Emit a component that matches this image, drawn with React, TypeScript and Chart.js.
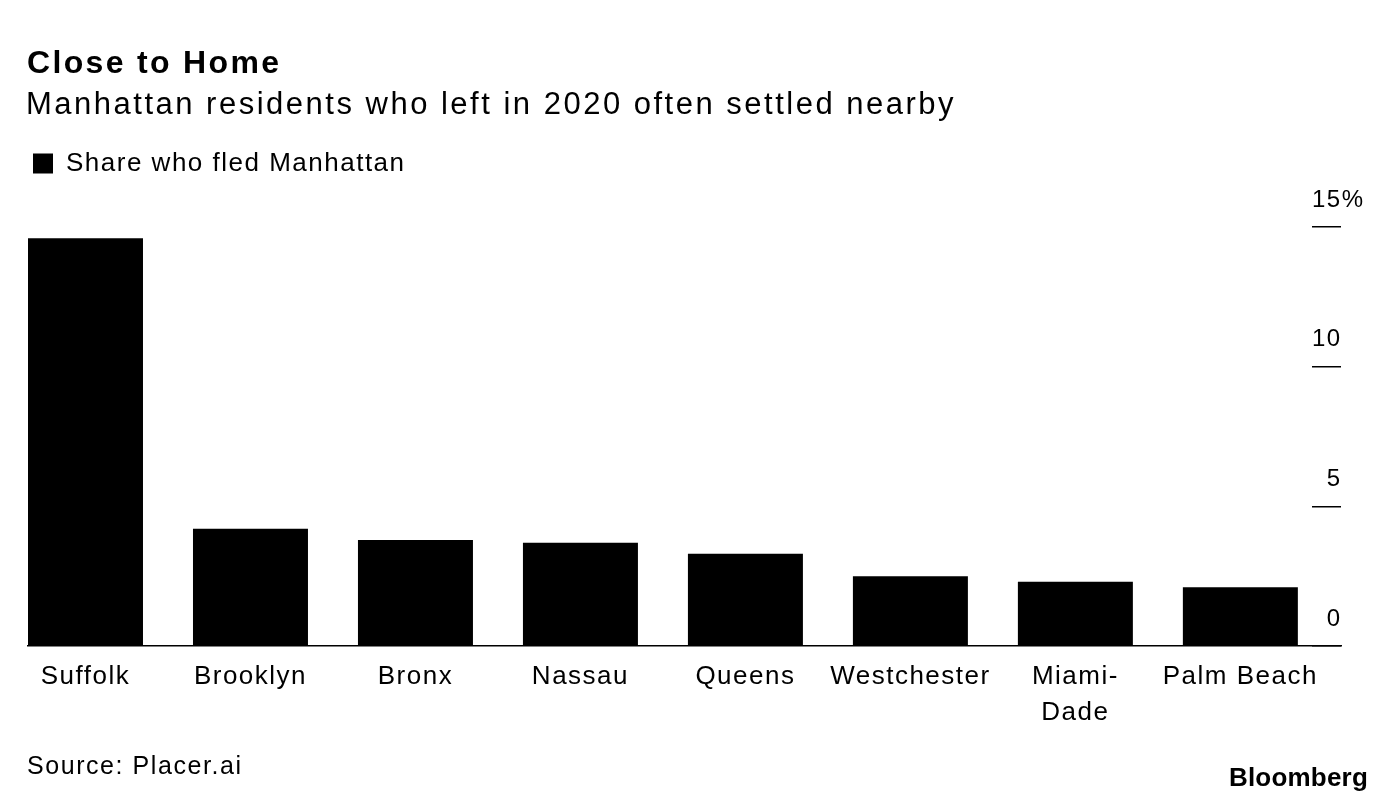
import { useEffect, useRef } from "react";
import { Chart, registerables } from "chart.js";

Chart.register(...registerables);

// ---- data ----
const CATEGORIES: (string | string[])[] = [
  "Suffolk",
  "Brooklyn",
  "Bronx",
  "Nassau",
  "Queens",
  "Westchester",
  ["Miami-", "Dade"],
  "Palm Beach",
];
const SHARE_FLED: number[] = [14.6, 4.2, 3.8, 3.7, 3.3, 2.5, 2.3, 2.1];
const SERIES_LABEL = "Share who fled Manhattan";
const Y_TICKS: number[] = [0, 5, 10, 15];
const Y_TICK_LABELS: string[] = ["\u20070", "\u20075", "10", "15%"];

const TITLE = "Close to Home";
const SUBTITLE = "Manhattan residents who left in 2020 often settled nearby";
const SOURCE = "Source: Placer.ai";
const BRAND = "Bloomberg";

const FONT = '"Liberation Sans", Arial, Helvetica, sans-serif';

const letterSpacingPlugin = {
  id: "letterSpacing",
  beforeLayout(chart: any) {
    chart.ctx.letterSpacing = "1.5px";
  },
  beforeDraw(chart: any) {
    chart.ctx.letterSpacing = "1.5px";
  },
};

export default function App() {
  const ref = useRef<HTMLCanvasElement | null>(null);

  useEffect(() => {
    if (!ref.current) return;
    const chart = new Chart(ref.current, {
      type: "bar",
      data: {
        datasets: [
          {
            label: SERIES_LABEL,
            data: SHARE_FLED.map((v, i) => ({ x: i, y: v })),
            backgroundColor: "#000",
            borderWidth: 0,
            barPercentage: 0.697,
            categoryPercentage: 1,
          } as any,
        ],
      },
      options: {
        responsive: false,
        maintainAspectRatio: false,
        animation: false,
        layout: { padding: { left: 28, right: 55, top: 145.6, bottom: 80 } },
        plugins: {
          legend: {
            display: true,
            position: "top",
            align: "start",
            labels: {
              boxWidth: 20,
              boxHeight: 20,
              padding: 5,
              color: "#000",
              font: { family: FONT, size: 26 },
            },
          },
          tooltip: { enabled: false },
        },
        scales: {
          x: {
            type: "linear",
            min: -0.3485,
            max: 7.61,
            offset: false,
            grid: { display: false },
            border: { display: true, color: "#000", width: 1.5 },
            afterBuildTicks: (s: any) => {
              s.ticks = CATEGORIES.map((_, i) => ({ value: i }));
            },
            afterFit: (s: any) => {
              s.height = 80;
            },
            ticks: {
              autoSkip: false,
              maxRotation: 0,
              minRotation: 0,
              padding: 5,
              color: "#000",
              font: { family: FONT, size: 26, lineHeight: 1.385 },
              callback: (_v: any, i: number) => CATEGORIES[i] as any,
            },
          } as any,
          y: {
            type: "linear",
            position: "right",
            min: 0,
            max: 16.45,
            grid: {
              display: true,
              drawOnChartArea: false,
              drawTicks: true,
              tickLength: -29,
              color: "#000",
              lineWidth: 1.5,
            },
            border: { display: false },
            afterBuildTicks: (s: any) => {
              s.ticks = Y_TICKS.map((v) => ({ value: v }));
            },
            afterFit: (s: any) => {
              s.width = 0;
            },
            ticks: {
              mirror: true,
              padding: 23.5,
              crossAlign: "far",
              labelOffset: -27,
              color: "#000",
              font: { family: FONT, size: 24 },
              callback: (_v: any, i: number) => Y_TICK_LABELS[i],
            },
          } as any,
        },
      },
      plugins: [letterSpacingPlugin],
    });
    return () => chart.destroy();
  }, []);

  const abs = { position: "absolute" as const, whiteSpace: "nowrap" as const };

  return (
    <div
      style={{
        position: "absolute",
        left: 0,
        top: 0,
        width: 1396,
        height: 806,
        background: "#fff",
        color: "#000",
        fontFamily: FONT,
        overflow: "hidden",
      }}
    >
      <canvas
        ref={ref}
        width={1396}
        height={806}
        style={{ position: "absolute", left: 0, top: 0, width: 1396, height: 806 }}
      />
      <div style={{ ...abs, left: 27, top: 46.4, fontSize: 32, lineHeight: "32px", fontWeight: 700, letterSpacing: "2.33px" }}>
        {TITLE}
      </div>
      <div style={{ ...abs, left: 26, top: 88, fontSize: 31, lineHeight: "31px", letterSpacing: "2.5px" }}>
        {SUBTITLE}
      </div>
      <div style={{ ...abs, left: 27, top: 753, fontSize: 25, lineHeight: "25px", letterSpacing: "1.56px" }}>
        {SOURCE}
      </div>
      <div style={{ ...abs, right: 28, top: 764, fontSize: 26, lineHeight: "26px", fontWeight: 700, letterSpacing: "0.2px" }}>
        {BRAND}
      </div>
    </div>
  );
}
